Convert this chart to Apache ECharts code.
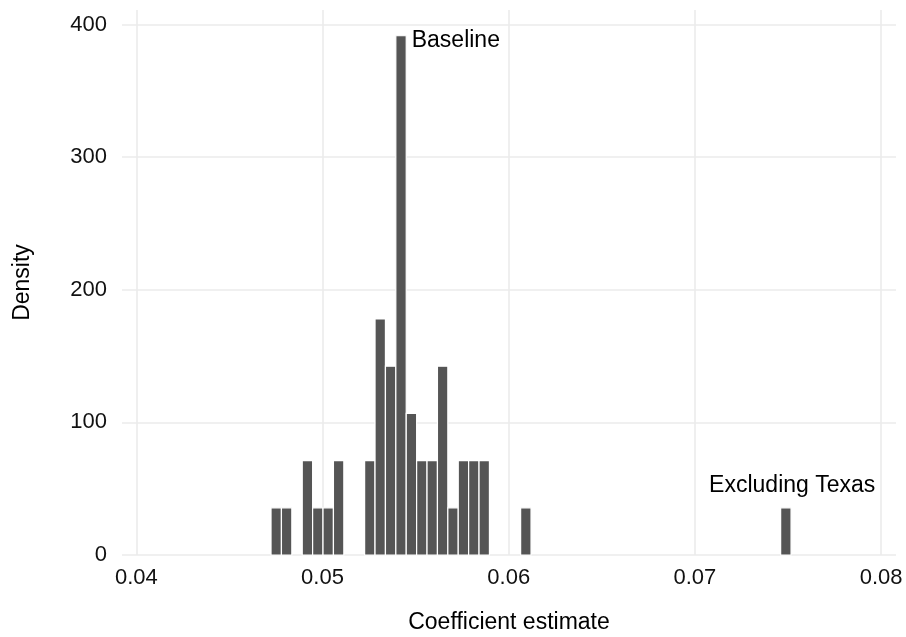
<!DOCTYPE html>
<html>
<head>
<meta charset="utf-8">
<script src="https://cdn.jsdelivr.net/npm/echarts@6/dist/echarts.min.js"></script>
<style>html,body{margin:0;padding:0;background:#fff}#c{width:906px;height:637px}</style>
</head>
<body>
<div id="c"></div>
<script>
// Histogram bin centres (coefficient estimate) and densities
const binCenters = [0.047513, 0.048072, 0.049189, 0.049747, 0.050306, 0.050865,
  0.052540, 0.053099, 0.053658, 0.054216, 0.054775, 0.055333, 0.055892, 0.056451,
  0.057009, 0.057568, 0.058126, 0.058685, 0.060919, 0.074884];
const densities = [35.6, 35.6, 71.2, 35.6, 35.6, 71.2,
  71.2, 178, 142.4, 391.6, 106.8, 71.2, 71.2, 142.4,
  35.6, 71.2, 71.2, 71.2, 35.6, 35.6];
const binWidth = 0.0005586;
const annotationTexts = ['Baseline', 'Excluding Texas'];
const annotationX = [0.05479, 0.075226];
const annotationY = [388, 52];
const annotationAlign = ['left', 'center'];
const xRange = [0.03923, 0.0808];
const yRange = [0, 411];
const yTickStep = 100;

const FONT = '"Liberation Sans", Arial, Helvetica, sans-serif';
const chart = echarts.init(document.getElementById('c'), null, {renderer: 'canvas'});

const barData = binCenters.map((c, i) => [c, densities[i]]);
const annData = annotationTexts.map((t, i) => [annotationX[i], annotationY[i], t, annotationAlign[i]]);

chart.setOption({
  animation: false,
  backgroundColor: '#ffffff',
  grid: {left: 122, right: 10, top: 10, bottom: 82, containLabel: false, outerBoundsMode: 'none'},
  xAxis: {
    type: 'value', min: xRange[0], max: xRange[1],
    name: 'Coefficient estimate', nameLocation: 'middle', nameGap: 56,
    nameTextStyle: {fontFamily: FONT, fontSize: 23, color: '#000'},
    axisLine: {show: false}, axisTick: {show: false},
    axisLabel: {fontFamily: FONT, fontSize: 22, color: '#111', margin: 12,
      showMinLabel: false, showMaxLabel: false,
      formatter: v => v.toFixed(2)},
    splitLine: {show: true, showMinLine: false, showMaxLine: false,
      lineStyle: {color: '#ebebeb', width: 1.6}}
  },
  yAxis: {
    type: 'value', min: yRange[0], max: yRange[1], interval: yTickStep,
    name: 'Density', nameLocation: 'middle', nameGap: 88, nameRotate: 90,
    nameTextStyle: {fontFamily: FONT, fontSize: 23, color: '#000'},
    axisLine: {show: false}, axisTick: {show: false},
    axisLabel: {fontFamily: FONT, fontSize: 22, color: '#111', margin: 15,
      showMaxLabel: false},
    splitLine: {show: true, showMaxLine: false,
      lineStyle: {color: '#ebebeb', width: 1.6}}
  },
  series: [
    {
      type: 'custom',
      data: barData,
      renderItem: function (params, api) {
        const c = api.value(0), h = api.value(1);
        const p0 = api.coord([c - binWidth / 2, h]);
        const p1 = api.coord([c + binWidth / 2, 0]);
        return {
          type: 'rect',
          shape: {x: p0[0], y: p0[1], width: p1[0] - p0[0], height: p1[1] - p0[1]},
          style: {fill: '#555555', stroke: '#ffffff', lineWidth: 1.2}
        };
      }
    },
    {
      type: 'custom',
      data: annData,
      renderItem: function (params, api) {
        const d = annData[params.dataIndex];
        const p = api.coord([d[0], d[1]]);
        return {
          type: 'text', x: p[0], y: p[1],
          style: {text: d[2], fill: '#000', font: '23px ' + FONT,
            align: d[3], verticalAlign: 'middle'}
        };
      }
    }
  ]
});
</script>
</body>
</html>
